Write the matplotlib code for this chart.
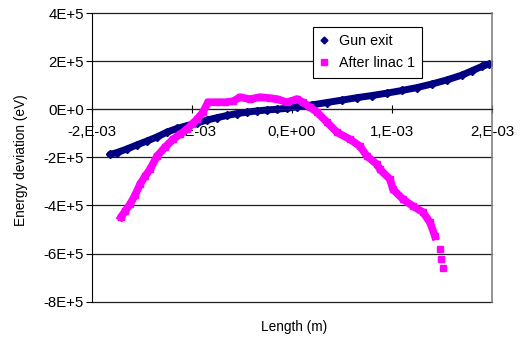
import matplotlib.pyplot as plt
from matplotlib.ticker import FixedLocator

plt.rcParams['font.family'] = ['Liberation Sans', 'DejaVu Sans']

# Gun exit (m, eV)
gun_x = [-1.82, -1.75, -1.65, -1.55, -1.45, -1.35, -1.25, -1.15, -1.05, -0.95,
         -0.85, -0.75, -0.65, -0.55, -0.45, -0.35, -0.25, -0.15, -0.05, 0.05,
         0.2, 0.35, 0.5, 0.65, 0.8, 0.95, 1.1, 1.25, 1.4, 1.55, 1.7, 1.8, 1.9, 1.97]
gun_y = [-1.88, -1.80, -1.65, -1.48, -1.32, -1.15, -0.95, -0.80, -0.68, -0.57,
         -0.45, -0.35, -0.26, -0.18, -0.12, -0.07, -0.03, 0.0, 0.04, 0.1,
         0.18, 0.28, 0.38, 0.48, 0.57, 0.67, 0.78, 0.90, 1.05, 1.22, 1.42, 1.60, 1.78, 1.88]
gun_x = [v * 1e-3 for v in gun_x]
gun_y = [v * 1e5 for v in gun_y]

# After linac 1
lin_x = [-1.71, -1.67, -1.62, -1.57, -1.52, -1.47, -1.42, -1.35, -1.27, -1.19,
         -1.12, -1.05, -1.00, -0.95, -0.89, -0.84, -0.75, -0.67, -0.59, -0.52,
         -0.42, -0.32, -0.22, -0.15, -0.05, 0.05, 0.11, 0.18, 0.25, 0.35,
         0.45, 0.58, 0.68, 0.75, 0.85, 0.88, 0.98, 1.01, 1.11, 1.21,
         1.31, 1.38, 1.43, 1.48, 1.49, 1.51]
lin_y = [-4.49, -4.24, -3.95, -3.58, -3.12, -2.79, -2.50, -1.95, -1.58, -1.25,
         -1.04, -0.83, -0.62, -0.42, -0.12, 0.29, 0.29, 0.29, 0.33, 0.50,
         0.42, 0.50, 0.46, 0.42, 0.29, 0.42, 0.29, 0.08, -0.12, -0.54,
         -0.96, -1.25, -1.54, -1.95, -2.29, -2.50, -2.91, -3.33, -3.74, -4.03,
         -4.28, -4.70, -5.28, -5.82, -6.24, -6.61]
lin_x = [v * 1e-3 for v in lin_x]
lin_y = [v * 1e5 for v in lin_y]

x_ticks = [-2e-3, -1e-3, 0, 1e-3, 2e-3]
x_labels = ['-2,E-03', '-1,E-03', '0,E+00', '1,E-03', '2,E-03']
y_ticks = [-8e5, -6e5, -4e5, -2e5, 0, 2e5, 4e5]
y_labels = ['-8E+5', '-6E+5', '-4E+5', '-2E+5', '0E+0', '2E+5', '4E+5']

navy = '#000080'
pink = '#ff00ff'

fig = plt.figure(figsize=(5.21, 3.38), dpi=100)
ax = fig.add_axes([0.1766, 0.1074, 0.7677, 0.8541])

for yt in y_ticks:
    ax.axhline(yt, color='#202020', lw=0.9, zorder=1, clip_on=False)

ax.plot(gun_x, gun_y, '-', color=navy, lw=5, zorder=2, solid_capstyle='round')
ax.plot(gun_x, gun_y, 'D', color=navy, ms=4.5, ls='none', zorder=2)
n = len(lin_x) - 3
ax.plot(lin_x[:n], lin_y[:n], '-', color=pink, lw=5.5, zorder=3)
ax.plot(lin_x, lin_y, 's', color=pink, ms=5, ls='none', zorder=3)

# legend proxies (small markers like the original)
ax.plot([], [], 'D', color=navy, ms=3.5, ls='none', label='Gun exit')
ax.plot([], [], 's', color=pink, ms=4.5, ls='none', label='After linac 1')

ax.set_xlim(-2e-3, 2e-3)
ax.set_ylim(-8e5, 4e5)
ax.xaxis.set_major_locator(FixedLocator(x_ticks))
ax.set_xticklabels(x_labels)
ax.yaxis.set_major_locator(FixedLocator(y_ticks))
ax.set_yticklabels(y_labels)

ax.spines['bottom'].set_position(('data', 0))
ax.spines['bottom'].set_color('#202020')
ax.spines['top'].set_visible(False)
ax.spines['right'].set_color('#808080')
ax.spines['right'].set_linewidth(1.2)
ax.spines['left'].set_color('black')
ax.tick_params(axis='x', direction='inout', length=6, pad=8, labelsize=10.8)
ax.tick_params(axis='y', direction='out', length=4, pad=2, labelsize=10.8)

ax.set_ylabel('Energy deviation (eV)', fontsize=9.8)
ax.yaxis.set_label_coords(-0.16, 0.49)
fig.text(0.5643, 0.032, 'Length (m)', ha='center', va='center', fontsize=9.8)

leg = ax.legend(loc='upper left', bbox_to_anchor=(0.552, 0.9525), fontsize=10.3,
                frameon=True, fancybox=False, edgecolor='black', framealpha=1,
                handlelength=0.5, handletextpad=0.8, borderpad=0.5,
                labelspacing=0.6, borderaxespad=0)
leg.get_frame().set_linewidth(0.8)

fig.savefig('out.png', dpi=100)
